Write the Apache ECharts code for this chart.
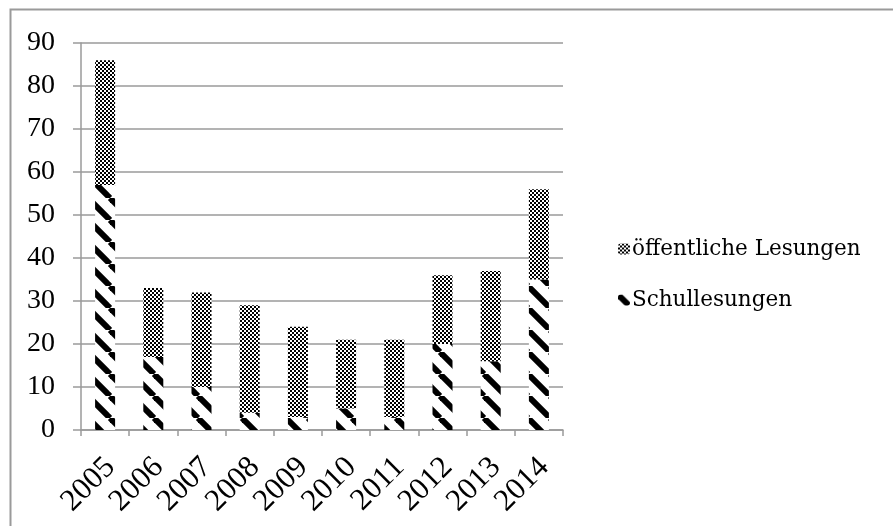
<!DOCTYPE html>
<html>
<head>
<meta charset="utf-8">
<script src="https://cdn.jsdelivr.net/npm/echarts@6/dist/echarts.min.js"></script>
<style>
html,body{margin:0;padding:0;background:#fff;}
#chart{width:893px;height:526px;}
</style>
</head>
<body>
<div id="chart"></div>
<script>
const years = ['2005','2006','2007','2008','2009','2010','2011','2012','2013','2014'];
const schulLesungen = [57, 17, 10, 4, 3, 5, 3, 20, 16, 35];
const oeffentlicheLesungen = [29, 16, 22, 25, 21, 16, 18, 16, 21, 21];
const yTicks = [0, 10, 20, 30, 40, 50, 60, 70, 80, 90];
const seriesNames = ['Schullesungen', 'öffentliche Lesungen'];

function checkerPattern() {
  const c = document.createElement('canvas');
  c.width = 4; c.height = 4;
  const ctx = c.getContext('2d');
  ctx.fillStyle = '#fff'; ctx.fillRect(0, 0, 4, 4);
  ctx.fillStyle = '#000';
  ctx.fillRect(0, 0, 2, 2);
  ctx.fillRect(2, 2, 2, 2);
  return c;
}
function stripePattern() {
  const P = 22;
  const c = document.createElement('canvas');
  c.width = P; c.height = P;
  const ctx = c.getContext('2d');
  ctx.fillStyle = '#fff'; ctx.fillRect(0, 0, P, P);
  ctx.strokeStyle = '#000';
  ctx.lineWidth = 6;
  for (const x0 of [-P, 0, P]) {
    ctx.beginPath();
    ctx.moveTo(x0, 0);
    ctx.lineTo(x0 + P, P);
    ctx.stroke();
  }
  return c;
}

const chart = echarts.init(document.getElementById('chart'), null, {renderer: 'canvas'});
const gray = '#9a9a9a';
const font = 'Liberation Serif';

chart.setOption({
  animation: false,
  backgroundColor: '#fff',
  graphic: [{
    type: 'rect',
    left: 8, top: 7,
    shape: {width: 1000, height: 700},
    style: {fill: 'none', stroke: gray, lineWidth: 2},
    silent: true
  }],
  grid: {left: 81, right: 330, top: 43, bottom: 96, outerBoundsMode: 'none'},
  legend: {
    orient: 'vertical',
    left: 613, top: 233,
    data: [seriesNames[1], seriesNames[0]],
    itemWidth: 12, itemHeight: 11,
    itemGap: 29,
    textStyle: {fontFamily: 'DejaVu Serif', fontSize: 21.5, color: '#000', lineHeight: 22, padding: [0, 0, 0, -3]}
  },
  xAxis: {
    type: 'category',
    data: years,
    boundaryGap: true,
    axisLine: {lineStyle: {color: gray, width: 1.5}},
    axisTick: {show: true, length: 6, lineStyle: {color: gray, width: 1.5}},
    axisLabel: {interval: 0, rotate: 45, margin: 16, verticalAlign: 'top', padding: [0, 8, 0, 0], hideOverlap: false, fontFamily: font, fontSize: 31, color: '#000'}
  },
  yAxis: {
    type: 'value',
    min: yTicks[0], max: yTicks[yTicks.length - 1], interval: 10,
    axisLine: {show: true, lineStyle: {color: gray, width: 1.5}},
    axisTick: {show: true, length: 8, lineStyle: {color: gray, width: 1.5}},
    splitLine: {lineStyle: {color: gray, width: 1.5}},
    axisLabel: {margin: 26, fontFamily: font, fontSize: 28, color: '#000'}
  },
  series: [
    {
      name: seriesNames[0], type: 'bar', stack: 'total', barWidth: 20,
      data: schulLesungen,
      itemStyle: {color: {image: stripePattern(), repeat: 'repeat'}}
    },
    {
      name: seriesNames[1], type: 'bar', stack: 'total', barWidth: 20,
      data: oeffentlicheLesungen,
      itemStyle: {color: {image: checkerPattern(), repeat: 'repeat'}}
    }
  ]
});
</script>
</body>
</html>
